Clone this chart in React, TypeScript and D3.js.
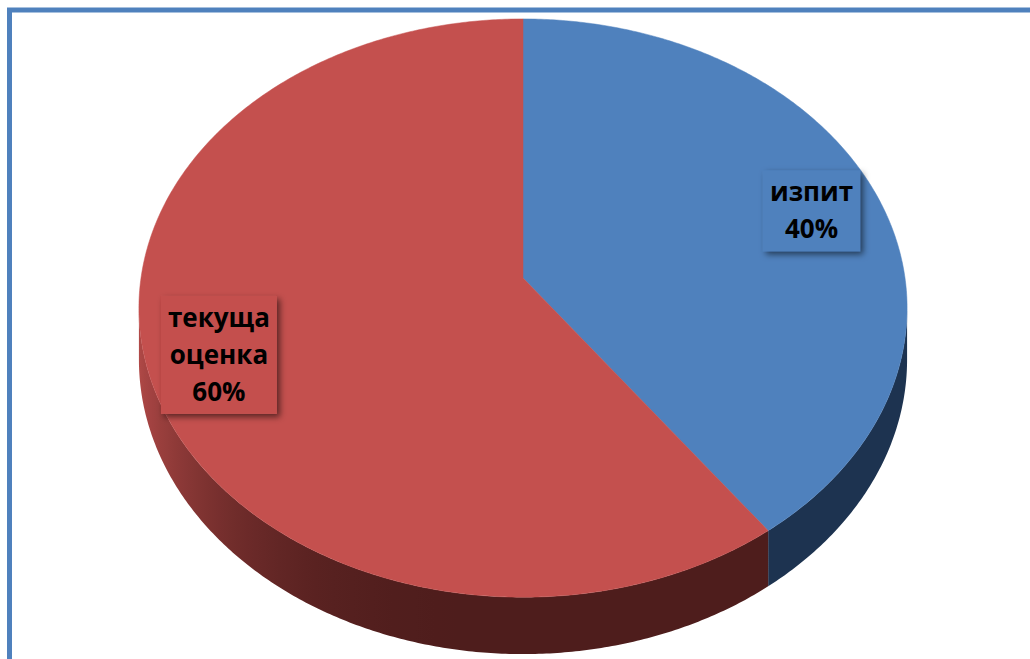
import React, { useEffect, useRef } from "react";
import * as d3 from "d3";

const categories = ["изпит", "текуща оценка"];
const shares = [40, 60];
const topColors = ["#4f81bd", "#c4504e"];
const sideDark = ["#1d3350", "#4e1d1c"];
const sideLight = ["#2c4c74", "#b34a48"];

export default function App() {
  const ref = useRef<SVGSVGElement>(null);

  useEffect(() => {
    const width = 1030;
    const height = 659;
    // projection of the tilted disc (perspective, front larger than back)
    const cx = 523;
    const cy = 278;
    const A = 382;
    const B = 286;
    const k = 0.104;
    const depth = 51;

    const project = (theta: number, r = 1, drop = 0): [number, number] => {
      const X = r * Math.sin(theta);
      const Z = -r * Math.cos(theta);
      const w = 1 - k * Z;
      return [cx + (A * X) / w, cy + (B * Z + drop) / w];
    };

    const svg = d3.select(ref.current);
    svg.selectAll("*").remove();
    svg.attr("width", width).attr("height", height);

    const defs = svg.append("defs");
    const f = defs
      .append("filter")
      .attr("id", "shadow")
      .attr("x", "-30%")
      .attr("y", "-30%")
      .attr("width", "160%")
      .attr("height", "160%");
    f.append("feDropShadow")
      .attr("dx", 3)
      .attr("dy", 3)
      .attr("stdDeviation", 3)
      .attr("flood-color", "#000")
      .attr("flood-opacity", 0.55);

    const data = categories.map((c, i) => ({ name: c, value: shares[i], i }));
    const total = d3.sum(data, (d) => d.value);
    const pie = d3
      .pie<any>()
      .sort(null)
      .value((d) => d.value);
    const arcs = pie(data);

    const line = d3.line<[number, number]>();
    const step = Math.PI / 360;

    // sides: one path per slice, shaded with a horizontal gradient
    const lo = Math.PI / 2 + Math.asin(k);
    const hi = (3 * Math.PI) / 2 - Math.asin(k);
    const gSide = svg.append("g");
    arcs.forEach((a) => {
      const s = Math.max(a.startAngle, lo);
      const e = Math.min(a.endAngle, hi);
      if (e <= s) return;
      const interp = d3.interpolateRgb(sideDark[a.data.i], sideLight[a.data.i]);
      const n = Math.max(2, Math.ceil((e - s) / step));
      const ts = d3.range(n + 1).map((j) => s + ((e - s) * j) / n);
      const topPts = ts.map((t) => project(t));
      const botPts = ts.map((t) => project(t, 1, depth)).reverse();
      const xs = topPts.map((p) => p[0]);
      const x0 = d3.min(xs)!;
      const x1 = d3.max(xs)!;
      const gid = `side${a.data.i}`;
      const grad = defs
        .append("linearGradient")
        .attr("id", gid)
        .attr("gradientUnits", "userSpaceOnUse")
        .attr("x1", x0)
        .attr("x2", x1)
        .attr("y1", 0)
        .attr("y2", 0);
      const stops = ts
        .filter((_, j) => j % 6 === 0 || j === n)
        .map((t) => ({
          off: (project(t)[0] - x0) / (x1 - x0 || 1),
          col: interp(Math.pow(Math.max(0, -Math.sin(t)), 3)),
        }))
        .sort((p, q) => p.off - q.off);
      stops.forEach((st) =>
        grad.append("stop").attr("offset", st.off).attr("stop-color", st.col)
      );
      gSide
        .append("path")
        .attr("d", line([...topPts, ...botPts]) + "Z")
        .attr("fill", `url(#${gid})`);
    });

    // tops
    const gTop = svg.append("g");
    arcs.forEach((a) => {
      const pts: [number, number][] = [project(0, 0)];
      const n = Math.ceil((a.endAngle - a.startAngle) / step);
      for (let j = 0; j <= n; j++) {
        const t = a.startAngle + ((a.endAngle - a.startAngle) * j) / n;
        pts.push(project(t));
      }
      gTop
        .append("path")
        .attr("d", line(pts) + "Z")
        .attr("fill", topColors[a.data.i])
        .attr("stroke", topColors[a.data.i])
        .attr("stroke-width", 0.5);
    });

    // labels
    const lineH = 37;
    arcs.forEach((a) => {
      const mid = (a.startAngle + a.endAngle) / 2;
      const [lx, ly] = project(mid, 0.815);
      const pct = Math.round((a.data.value / total) * 100);
      const lines = [...a.data.name.split(" "), `${pct}%`];
      const g = svg.append("g");
      const box = g
        .append("rect")
        .attr("fill", topColors[a.data.i])
        .attr("filter", "url(#shadow)");
      const first = ly + 12 - ((lines.length - 1) * lineH) / 2;
      const txt = g
        .append("text")
        .attr("text-anchor", "middle")
        .style("font-family", "'Open Sans', sans-serif")
        .style("font-weight", 700)
        .style("font-size", "26px")
        .attr("fill", "#000");
      let maxW = 0;
      lines.forEach((l, j) => {
        const ts = txt
          .append("tspan")
          .attr("x", lx)
          .attr("y", first + j * lineH)
          .text(l);
        const node = ts.node() as SVGTSpanElement;
        maxW = Math.max(maxW, node.getComputedTextLength());
      });
      const last = first + (lines.length - 1) * lineH;
      box
        .attr("x", lx - maxW / 2 - 7)
        .attr("y", first - 31)
        .attr("width", maxW + 14)
        .attr("height", last + 13 - (first - 31));
    });

    // chart frame
    svg
      .append("rect")
      .attr("x", 9.5)
      .attr("y", 10)
      .attr("width", 1100)
      .attr("height", 1000)
      .attr("fill", "none")
      .attr("stroke", "#4f81bd")
      .attr("stroke-width", 5);
  }, []);

  return <svg ref={ref} style={{ position: "absolute", left: 0, top: 0 }}></svg>;
}
